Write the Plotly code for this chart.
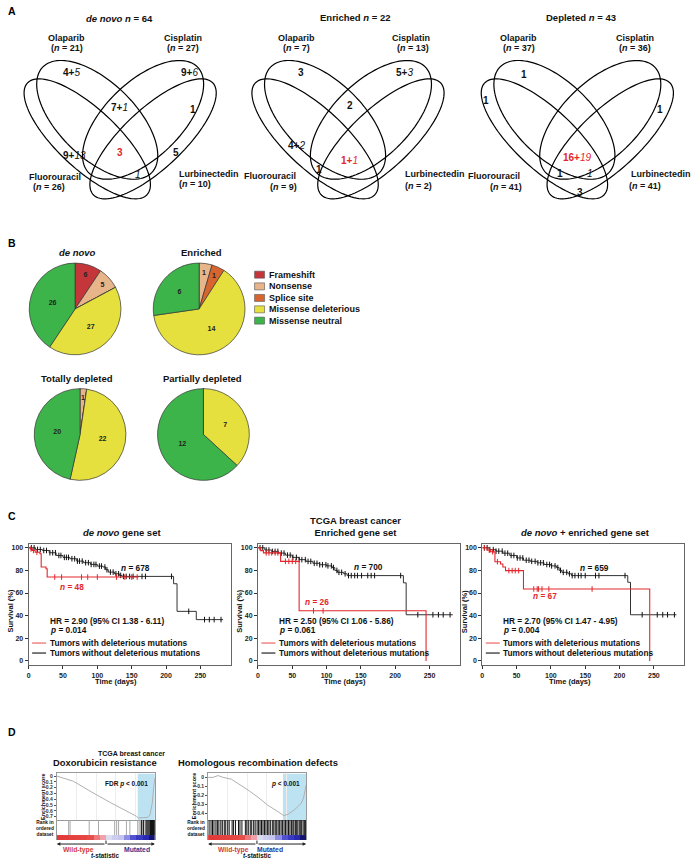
import numpy as np
import plotly.graph_objects as go

W, H = 693, 861
FONT = "Liberation Sans"
RED = "#E3262B"

# ---------------- Panel A : Venn data ----------------
venn_titles = ["<i>de novo n</i> = 64", "Enriched <i>n</i> = 22", "Depleted <i>n</i> = 43"]
drug_names = ["Olaparib", "Cisplatin", "Fluorouracil", "Lurbinectedin"]
denovo_drug_n = [21, 27, 26, 10]
enriched_drug_n = [7, 13, 9, 2]
depleted_drug_n = [37, 36, 41, 41]

denovo_bold = ["4+", "9+", "7+", "1", "9+", "3", "5", ""]
denovo_ital = ["5", "6", "1", "", "13", "", "", "1"]
denovo_red = [0, 0, 0, 0, 0, 1, 0, 0]
enriched_bold = ["3", "5+", "2", "4+", "1", "1+"]
enriched_ital = ["", "3", "", "2", "", "1"]
enriched_red = [0, 0, 0, 0, 0, 1]
depleted_bold = ["1", "1", "1", "16+", "1", "", "3"]
depleted_ital = ["", "", "", "19", "", "1", ""]
depleted_red = [0, 0, 0, 1, 0, 0, 0]

# ---------------- Panel B : pie data ----------------
mut_types = ["Frameshift", "Nonsense", "Splice site", "Missense deleterious", "Missense neutral"]
mut_colors = ["#C4363A", "#E8B48A", "#D8652E", "#E6E03E", "#3CB44A"]
pie_titles = ["<i>de novo</i>", "Enriched", "Totally depleted", "Partially depleted"]
pie_denovo = [6, 5, 0, 27, 26]
pie_enriched = [0, 1, 1, 14, 6]
pie_totally = [0, 1, 0, 22, 20]
pie_partially = [0, 0, 0, 7, 12]

# ---------------- Panel C : Kaplan-Meier data ----------------
km_titles = ["<i>de novo</i> gene set", "TCGA breast cancer<br>Enriched gene set", "<i>de novo</i> + enriched gene set"]
km_hr = ["HR = 2.90 (95% CI 1.38 - 6.11)", "HR = 2.50 (95% CI 1.06 - 5.86)", "HR = 2.70 (95% CI 1.47 - 4.95)"]
km_p = ["0.014", "0.061", "0.004"]
km_n_mut = [48, 26, 67]
km_n_wt = [678, 700, 659]

km1_red_t = [0, 2.5, 5.5, 9.5, 16.5, 18.3, 25.3, 27.0, 160]
km1_red_s = [100, 99.0, 97.6, 96.0, 94.7, 83.0, 81.5, 74.1, 74.1]
km1_red_cens = [3.5, 7, 12, 38, 48, 77, 86, 100, 128, 140, 150, 158]
km1_blk_t = [0, 10, 20, 30, 40, 50, 60, 70, 80, 90, 100, 108, 112, 116, 125, 132, 136, 211, 216, 244, 283]
km1_blk_s = [100, 98.5, 97.6, 95.6, 93.2, 91.5, 90.3, 88.2, 86.8, 85.3, 83.8, 83.0, 80.6, 78.5, 77.0, 75.6, 74.7, 68.2, 43.8, 36.5, 36.5]
km1_blk_cens = [4, 8, 13, 17, 22, 26, 31, 35, 39, 44, 47, 52, 55, 58, 63, 67, 71, 74, 78, 83, 87, 91, 95, 98,
                103, 106, 111, 114, 119, 123, 127, 131, 134, 138, 142, 147, 152, 165, 170, 208, 233, 256, 263, 270, 280]

km2_red_t = [0, 4, 8, 33, 60, 245]
km2_red_s = [100, 97.5, 95.5, 88.0, 44.3, 0]
km2_red_cens = [12, 16, 20, 25, 29, 40, 45, 50, 55, 81, 95]
km2_blk_t = [0, 10, 20, 30, 40, 50, 60, 70, 80, 90, 100, 108, 112, 116, 125, 130, 212, 216, 284]
km2_blk_s = [100, 98.0, 96.8, 95.3, 93.5, 91.5, 89.5, 88.0, 86.3, 85.0, 84.0, 82.5, 80.0, 78.3, 77.0, 75.4, 69.0, 40.8, 40.8]
km2_blk_cens = [3, 7, 12, 16, 21, 25, 29, 34, 38, 43, 47, 51, 56, 60, 64, 69, 73, 77, 82, 86, 90, 94, 99,
                102, 107, 110, 115, 118, 122, 127, 132, 136, 141, 145, 151, 160, 165, 170, 208, 233, 255, 263, 270, 280]

km3_red_t = [0, 7, 12, 18.4, 26.6, 30, 33.8, 60, 244]
km3_red_s = [100, 98.0, 96.5, 87.7, 85.6, 83.0, 79.8, 63.6, 0]
km3_red_cens = [3, 10, 15, 22, 38.7, 43.5, 48, 53, 75, 80, 82, 87, 97, 160]
km3_blk_t = [0, 10, 20, 30, 40, 50, 60, 70, 80, 90, 100, 108, 112, 116, 125, 130, 212, 216, 283]
km3_blk_s = [100, 98.3, 97.0, 95.2, 93.2, 91.0, 89.0, 88.0, 86.7, 85.2, 84.0, 82.5, 80.0, 78.3, 77.0, 75.4, 69.5, 40.8, 40.8]
km3_blk_cens = [3, 7, 11, 16, 20, 24, 29, 33, 37, 42, 46, 51, 55, 59, 64, 68, 72, 77, 81, 85, 89, 94, 98,
                101, 106, 110, 114, 118, 123, 127, 131, 135, 140, 144, 150, 165, 170, 208, 233, 255, 263, 270, 280]

# ---------------- Panel D : GSEA data ----------------
gsea_titles = ["Doxorubicin resistance", "Homologous recombination defects"]
gsea_p = ["FDR <i>p</i> < 0.001", "<i>p</i> < 0.001"]
es1_x = [0.0, 0.06, 0.12, 0.17, 0.35, 0.55, 0.81, 0.83, 0.88, 0.93, 0.95, 0.973, 0.986, 1.0]
es1_y = [0.0, -0.03, -0.07, -0.09, -0.27, -0.46, -0.69, -0.72, -0.715, -0.71, -0.67, -0.47, -0.24, -0.03]
es1_ticks = [0, -0.1, -0.2, -0.3, -0.4, -0.5, -0.6, -0.7]
hits1_light = [0.12, 0.135, 0.33, 0.425, 0.59, 0.61, 0.63, 0.71, 0.745, 0.825, 0.84, 0.855, 0.875, 0.9]
hits1_dark = [0.865, 0.885, 0.91, 0.92, 0.93, 0.94, 0.95, 0.955, 0.96, 0.965, 0.97, 0.975, 0.98, 0.985, 0.99, 0.995]
es2_x = [0.0, 0.05, 0.102, 0.153, 0.237, 0.305, 0.407, 0.508, 0.61, 0.712, 0.773, 0.814, 0.881, 0.949, 0.973, 1.0]
es2_y = [0.0, 0.0, 0.02, 0.0, -0.02, -0.067, -0.14, -0.22, -0.31, -0.38, -0.425, -0.41, -0.36, -0.29, -0.23, -0.085]
es2_ticks = [0, -0.1, -0.2, -0.3, -0.4]
hits2 = [0.01, 0.03, 0.045, 0.06, 0.08, 0.095, 0.11, 0.13, 0.145, 0.165, 0.18, 0.2, 0.215, 0.245, 0.26, 0.28,
         0.31, 0.325, 0.345, 0.38, 0.395, 0.41, 0.43, 0.445, 0.465, 0.48, 0.5, 0.515, 0.53, 0.545, 0.56, 0.575,
         0.59, 0.605, 0.62, 0.635, 0.655, 0.67, 0.685, 0.7, 0.715, 0.73, 0.745, 0.76, 0.775, 0.79, 0.805, 0.82,
         0.835, 0.85, 0.865, 0.875, 0.89, 0.9, 0.915, 0.93, 0.945, 0.955, 0.97, 0.985, 0.995]
tstat_blocks = [3.0, 2.9, 2.7, 2.6, 2.5, 2.2, 1.4, 0.8, -0.3, -0.5, -0.6, -1.2, -1.8, -2.2, -2.5, -3.2]
rank_colorscale = [[0.0, "#14146E"], [0.12, "#2A2AB8"], [0.25, "#5A5AD8"], [0.38, "#B4B4EA"],
                   [0.47, "#DCDCF2"], [0.55, "#F2C8D8"], [0.7, "#EE8A90"], [0.85, "#E8504C"], [1.0, "#E23A36"]]

# ======================================================================
fig = go.Figure()
fig.add_trace(go.Scatter(x=[], y=[], xaxis="x", yaxis="y", showlegend=False, hoverinfo="skip"))
ann_list = []
shape_list = []


def ann(x, y, text, size, color="#111111", xanchor="center", yanchor="middle", angle=0, xref="x", yref="y"):
    ann_list.append(dict(x=x, y=y, xref=xref, yref=yref, text=text, showarrow=False, textangle=angle,
                         font=dict(family=FONT, size=size, color=color), xanchor=xanchor, yanchor=yanchor,
                         borderpad=0))


def ellipse_path(cx, cy, a, b, th_deg):
    th = np.radians(th_deg)
    t = np.linspace(0, 2 * np.pi, 120)
    xs = cx + a * np.cos(t) * np.cos(th) - b * np.sin(t) * np.sin(th)
    ys = cy + a * np.cos(t) * np.sin(th) + b * np.sin(t) * np.cos(th)
    return "M " + " L ".join(f"{x:.2f},{y:.2f}" for x, y in zip(xs, ys)) + " Z"


# panel letters
for letter, yy in zip("ABCD", [10, 242, 516, 732]):
    ann(5, yy, f"<b>{letter}</b>", 10.5, "#000", xanchor="left")

# ---------------- Panel A drawing ----------------
venn_axis_x = [118.5, 347, 577]
venn_title_pos = [(117.5, 17.3), (355, 16.7), (581, 16.7)]
venn_drug_pos = [
    [((65, 36.7), (65, 46.7)), ((181.7, 36.7), (181.7, 46.7)), ((53.5, 176), (47.5, 186.7)), ((208, 173.3), (194, 183.3))],
    [((295, 36.7), (295, 46.7)), ((410, 36.7), (411.7, 47.3)), ((268.3, 175), (282, 186.7)), ((434.7, 173.3), (417.5, 185))],
    [((518.3, 36.7), (518.3, 46.7)), ((635, 36.7), (635, 47.3)), ((493.3, 175), (505.8, 186.7)), ((660.8, 173), (645, 185))],
]
venn_region_pos = [
    [(70, 71.7), (188.3, 71.7), (118.3, 106.7), (191.7, 108.3), (73, 155), (118.3, 151.7), (174.3, 151.7), (136.7, 173.3)],
    [(300, 71.7), (403.3, 71.7), (349, 105), (295, 145), (318, 168.3), (348.3, 160)],
    [(523.3, 74), (485.7, 100), (660, 108.3), (576.7, 156.7), (559.3, 172.7), (590, 172.7), (580, 191.7)],
]
venn_ns = [denovo_drug_n, enriched_drug_n, depleted_drug_n]
venn_bolds = [denovo_bold, enriched_bold, depleted_bold]
venn_itals = [denovo_ital, enriched_ital, depleted_ital]
venn_reds = [denovo_red, enriched_red, depleted_red]

for vi in range(3):
    X = venn_axis_x[vi]
    for (cx, cy, a, b, th) in [(X - 23, 119, 76, 38, 44), (X + 23, 119, 76, 38, -44),
                               (X - 33, 138, 82, 30, 43), (X + 33, 138, 82, 30, -43)]:
        shape_list.append(dict(type="path", path=ellipse_path(cx, cy, a, b, th), xref="x", yref="y",
                               line=dict(color="#000", width=1.2), fillcolor="rgba(0,0,0,0)"))
    tx, ty = venn_title_pos[vi]
    ann(tx, ty, f"<b>{venn_titles[vi]}</b>", 9.5)
    for di in range(4):
        (nx, ny), (px, py) = venn_drug_pos[vi][di]
        ann(nx, ny, f"<b>{drug_names[di]}</b>", 9)
        ann(px, py, f"<b>(<i>n</i> = {venn_ns[vi][di]})</b>", 9)
    for ri, (rx, ry) in enumerate(venn_region_pos[vi]):
        red = venn_reds[vi][ri]
        col = RED if red else "#111111"
        txt = ""
        if venn_bolds[vi][ri]:
            txt += f"<b>{venn_bolds[vi][ri]}</b>"
        if venn_itals[vi][ri]:
            txt += f"<i>{venn_itals[vi][ri]}</i>"
        ann(rx, ry, txt, 10, col)

# ---------------- Panel B drawing ----------------
pie_centers = [(73.3, 308.3), (197.7, 308.3), (78.3, 434), (202, 434)]
pie_title_pos = [(75.7, 251.7), (200, 251.7), (75, 377.7), (200.7, 377.7)]
R = 46
for vals, (cx, cy), title, (tx, ty) in zip([pie_denovo, pie_enriched, pie_totally, pie_partially],
                                           pie_centers, pie_titles, pie_title_pos):
    total = float(sum(vals))
    big_text = [str(v) if v / total >= 0.06 else "" for v in vals]
    fig.add_trace(go.Pie(values=vals, labels=mut_types, sort=False, direction="clockwise", rotation=0,
                         marker=dict(colors=mut_colors, line=dict(color="#333", width=0.7)),
                         text=big_text, textinfo="text", textposition="inside",
                         insidetextorientation="horizontal",
                         textfont=dict(family=FONT, size=7, color="#222", weight="bold"),
                         domain=dict(x=[(cx - R) / W, (cx + R) / W], y=[1 - (cy + R) / H, 1 - (cy - R) / H]),
                         showlegend=False, hoverinfo="skip"))
    cum = 0.0
    for v in vals:
        if 0 < v / total < 0.06:
            ang = np.radians(360.0 * (cum + v / 2.0) / total)
            ann(cx + 0.8 * R * np.sin(ang), cy - 0.8 * R * np.cos(ang), f"<b>{v}</b>", 7, "#222")
        cum += v
    ann(tx, ty, f"<b>{title}</b>", 9.5)

leg_y = [274, 285.7, 297.3, 308.7, 320]
for name, col, yy in zip(mut_types, mut_colors, leg_y):
    shape_list.append(dict(type="rect", xref="x", yref="y", x0=253.3, x1=263.3, y0=yy - 3.5, y1=yy + 3.5,
                           fillcolor=col, line=dict(color="#555", width=0.6)))
    ann(266.5, yy, f"<b>{name}</b>", 9, xanchor="left")

# ---------------- Panel C drawing ----------------
km_left = [26.7, 256.7, 481.7]
km_right = [229.3, 459, 684]
km_top, km_bot = 544, 665
km_title_pos = [(120, 532), (355, 526), (585, 532)]
km_n_wt_pos = [(133.5, 567.7), (367.5, 566.7), (594.7, 567.3)]
km_n_mut_pos = [(70, 586.7), (315.7, 601.7), (544.5, 595.7)]
km_data = [
    (km1_red_t, km1_red_s, km1_red_cens, km1_blk_t, km1_blk_s, km1_blk_cens),
    (km2_red_t, km2_red_s, km2_red_cens, km2_blk_t, km2_blk_s, km2_blk_cens),
    (km3_red_t, km3_red_s, km3_red_cens, km3_blk_t, km3_blk_s, km3_blk_cens),
]


def step_at(times, surv, tq):
    idx = np.searchsorted(np.array(times), np.array(tq), side="right") - 1
    return [surv[i] for i in idx]


layout_axes = {}
tickf = dict(family=FONT, size=7, color="#222", weight="bold")
for i in range(3):
    k = i + 2
    rt, rs, rc, bt, bs, bc = km_data[i]
    xa, ya = f"x{k}", f"y{k}"
    fig.add_trace(go.Scatter(x=bt, y=bs, mode="lines", line=dict(color="#333", width=1, shape="hv"),
                             xaxis=xa, yaxis=ya, showlegend=False, hoverinfo="skip"))
    fig.add_trace(go.Scatter(x=bc, y=step_at(bt, bs, bc), mode="markers",
                             marker=dict(symbol="line-ns-open", size=4, color="#111",
                                         line=dict(color="#111", width=1)),
                             xaxis=xa, yaxis=ya, showlegend=False, hoverinfo="skip"))
    fig.add_trace(go.Scatter(x=rt, y=rs, mode="lines", line=dict(color=RED, width=1.1, shape="hv"),
                             xaxis=xa, yaxis=ya, showlegend=False, hoverinfo="skip"))
    fig.add_trace(go.Scatter(x=rc, y=step_at(rt, rs, rc), mode="markers",
                             marker=dict(symbol="line-ns-open", size=4, color=RED,
                                         line=dict(color=RED, width=1)),
                             xaxis=xa, yaxis=ya, showlegend=False, hoverinfo="skip"))
    layout_axes[f"xaxis{k}"] = dict(domain=[km_left[i] / W, km_right[i] / W], anchor=ya, range=[0, 294],
                                    tickvals=[0, 50, 100, 150, 200, 250], ticks="outside", ticklen=3,
                                    tickwidth=1, tickcolor="#333", showline=True, linecolor="#666",
                                    linewidth=1, mirror=True, showgrid=False, zeroline=False,
                                    tickfont=tickf, fixedrange=True)
    layout_axes[f"yaxis{k}"] = dict(domain=[1 - km_bot / H, 1 - km_top / H], anchor=xa, range=[-3.8, 103],
                                    tickvals=[0, 20, 40, 60, 80, 100], ticks="outside", ticklen=3,
                                    tickwidth=1, tickcolor="#333", showline=True, linecolor="#666",
                                    linewidth=1, mirror=True, showgrid=False, zeroline=False,
                                    tickfont=tickf, fixedrange=True)
    L = km_left[i]
    tx, ty = km_title_pos[i]
    ann(tx, ty, f"<b>{km_titles[i]}</b>", 9.5)
    ann(L - 18.5, 611, "<b>Survival (%)</b>", 7.5, angle=-90)
    ann(L + 87.5, 681, "<b>Time (days)</b>", 7.5)
    ann(*km_n_wt_pos[i], f"<b><i>n</i> = {km_n_wt[i]}</b>", 8.3)
    ann(*km_n_mut_pos[i], f"<b><i>n</i> = {km_n_mut[i]}</b>", 8.3, RED)
    ann(L + 20, 620.5, f"<b>{km_hr[i]}</b>", 8.3, xanchor="left")
    ann(L + 20, 629.8, f"<b><i>p</i> = {km_p[i]}</b>", 8.3, xanchor="left")
    for yy, col, lab in [(642.8, "#F07070", "Tumors with deleterious mutations"),
                         (652.8, "#333", "Tumors without deleterious mutations")]:
        shape_list.append(dict(type="line", xref="x", yref="y", x0=L + 3.5, x1=L + 17.5, y0=yy, y1=yy,
                               line=dict(color=col, width=1.3)))
        ann(L + 20, yy, f"<b>{lab}</b>", 8.3, xanchor="left")

# ---------------- Panel D drawing ----------------
ann(130, 753.3, "<b>TCGA breast cancer</b>", 7)
gs_left = [55, 206.7]
gs_right = [153.3, 305]
es_top, es_bot, rk_bot = 773.3, 820, 840
es_ranges = [[-0.757, 0.046], [-0.474, 0.044]]
es_data = [(es1_x, es1_y, es1_ticks), (es2_x, es2_y, es2_ticks)]
blue_from = [0.825, 0.763]
title_x = [103.3, 256.7]
mid_x = [104.3, 255.7]
wt_x = [76.7, 231.7]
mu_x = [135, 268.3]
p_right = [147, 300]

for g in range(2):
    ke, kr = 5 + g, 7 + g
    ex, ey, eticks = es_data[g]
    gl, gr = gs_left[g], gs_right[g]
    fig.add_trace(go.Scatter(x=ex, y=ey, mode="lines", line=dict(color="#B0B0B0", width=1),
                             xaxis=f"x{ke}", yaxis=f"y{ke}", showlegend=False, hoverinfo="skip"))
    layout_axes[f"xaxis{ke}"] = dict(domain=[gl / W, gr / W], anchor=f"y{ke}", range=[0, 1], showticklabels=False,
                                     ticks="", showline=True, linecolor="#9A9A9A", linewidth=1, mirror=True,
                                     showgrid=True, gridcolor="#EDEDED", dtick=0.2, zeroline=False, fixedrange=True)
    layout_axes[f"yaxis{ke}"] = dict(domain=[1 - es_bot / H, 1 - es_top / H], anchor=f"x{ke}",
                                     range=es_ranges[g], tickvals=eticks,
                                     ticktext=["0" if v == 0 else f"{v:.1f}" for v in eticks],
                                     ticks="outside", ticklen=2, tickcolor="#555", showline=True,
                                     linecolor="#9A9A9A", linewidth=1, mirror=True, showgrid=False,
                                     zeroline=False, tickfont=dict(family=FONT, size=5, color="#333", weight="bold"),
                                     fixedrange=True)
    shape_list.append(dict(type="rect", xref=f"x{ke}", yref=f"y{ke}", x0=blue_from[g], x1=1,
                           y0=es_ranges[g][0], y1=es_ranges[g][1], fillcolor="#BDE3F3",
                           line=dict(width=0), layer="below"))
    groups = [(hits1_light, "#A8A8A8"), (hits1_dark, "#111")] if g == 0 else [(hits2, "#111")]
    for hits, col in groups:
        hx, hy = [], []
        for h in hits:
            hx += [h, h, None]
            hy += [0, 1, None]
        fig.add_trace(go.Scatter(x=hx, y=hy, mode="lines", line=dict(color=col, width=1),
                                 xaxis=f"x{kr}", yaxis=f"y{kr}", showlegend=False, hoverinfo="skip"))
    nb = len(tstat_blocks)
    fig.add_trace(go.Heatmap(z=[tstat_blocks], x=np.linspace(0, 1, nb + 1), y=[-0.333, 0],
                             colorscale=rank_colorscale, zmin=-3.2, zmax=3.0, showscale=False,
                             xaxis=f"x{kr}", yaxis=f"y{kr}", hoverinfo="skip"))
    layout_axes[f"xaxis{kr}"] = dict(domain=[gl / W, gr / W], anchor=f"y{kr}", range=[0, 1], visible=False,
                                     fixedrange=True)
    layout_axes[f"yaxis{kr}"] = dict(domain=[1 - rk_bot / H, 1 - es_bot / H], anchor=f"x{kr}",
                                     range=[-0.333, 1], showticklabels=False, ticks="", showline=True,
                                     linecolor="#9A9A9A", linewidth=1, mirror=True, showgrid=False,
                                     zeroline=False, fixedrange=True)
    ann(title_x[g], 762.7, f"<b>{gsea_titles[g]}</b>", 9.4)
    ann(p_right[g], 784.3, f"<b>{gsea_p[g]}</b>", 6.5, xanchor="right")
    ann(gl - 14.5, 796.5, "<b>Enrichment score</b>", 5.5, angle=-90)
    ann(gl - 11.7, 828, "<b>Rank in<br>ordered<br>dataset</b>", 4.8)
    for xe in (gl, gr):
        ann_list.append(dict(x=xe, y=844, ax=mid_x[g], ay=844, xref="x", yref="y", axref="x", ayref="y",
                             text="", showarrow=True, arrowhead=2, arrowsize=0.7, arrowwidth=1,
                             arrowcolor="#222", standoff=0))
    shape_list.append(dict(type="line", xref="x", yref="y", x0=mid_x[g], x1=mid_x[g], y0=840.5, y1=844,
                           line=dict(color="#222", width=1)))
    ann(wt_x[g], 849.5, "<b>Wild-type</b>", 6.8, "#D33A36")
    ann(mu_x[g], 849.5, "<b>Mutated</b>", 6.8, "#2C3590")
    ann(title_x[g], 855, "<b><i>t</i>-statistic</b>", 6.3)

fig.update_layout(
    width=W, height=H, margin=dict(l=0, r=0, t=0, b=0),
    paper_bgcolor="white", plot_bgcolor="rgba(0,0,0,0)",
    xaxis=dict(domain=[0, 1], range=[0, W], visible=False, fixedrange=True),
    yaxis=dict(domain=[0, 1], range=[H, 0], visible=False, fixedrange=True),
    annotations=ann_list, shapes=shape_list, showlegend=False,
    font=dict(family=FONT),
    **layout_axes,
)
fig.write_html("out.html", config={"displayModeBar": False},
               post_script="document.body.style.margin='0px';")
